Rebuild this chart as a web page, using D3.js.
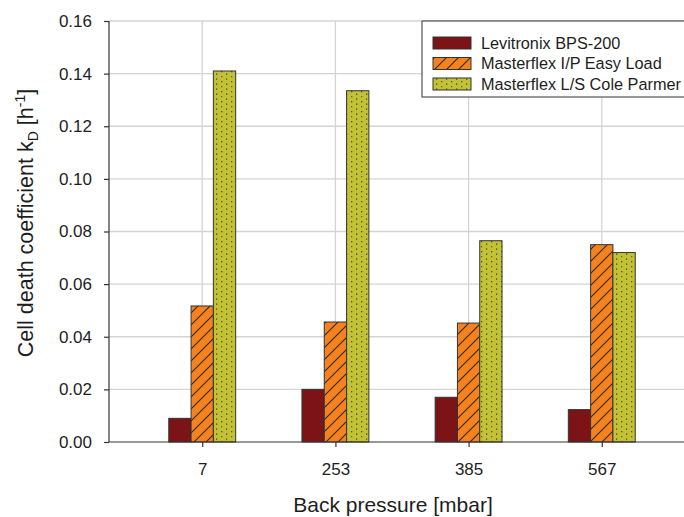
<!DOCTYPE html>
<html>
<head>
<meta charset="utf-8">
<script src="https://cdn.jsdelivr.net/npm/d3@7"></script>
<style>
  html, body { margin: 0; padding: 0; background: #fff; }
  svg { display: block; font-family: "Liberation Sans", Arial, sans-serif; }
</style>
</head>
<body>
<svg id="chart" width="684" height="517"></svg>
<script>
// Back pressure settings (x categories)
const categories = ["7", "253", "385", "567"];
// Pumps (series)
const seriesNames = ["Levitronix BPS-200", "Masterflex I/P Easy Load", "Masterflex L/S Cole Parmer"];
// Cell death coefficient kD [h^-1] per pump and back pressure
const levitronix = [0.009, 0.020, 0.017, 0.0123];
const masterflexIP = [0.0517, 0.0456, 0.0452, 0.075];
const masterflexLS = [0.141, 0.1335, 0.0765, 0.072];
const yTicks = [0, 0.02, 0.04, 0.06, 0.08, 0.10, 0.12, 0.14, 0.16];

const seriesValues = [levitronix, masterflexIP, masterflexLS];

const svg = d3.select("#chart");
const plotL = 109, plotR = 695, plotT = 21, plotB = 442;

const x = d3.scalePoint().domain(categories).range([plotL, plotR]).padding(0.7);
const y = d3.scaleLinear().domain([0, 0.16]).range([plotB, plotT]);
const barW = 22.3;

// Fill patterns
const defs = svg.append("defs");
const hatch = defs.append("pattern").attr("id", "hatch")
  .attr("patternUnits", "userSpaceOnUse").attr("width", 12).attr("height", 12);
hatch.append("rect").attr("width", 12).attr("height", 12).attr("fill", "#f5821f");
hatch.append("path").attr("d", "M0,12 L12,0 M-3,3 L3,-3 M9,15 L15,9")
  .attr("stroke", "#2a2a2a").attr("stroke-width", 1.1);

const dots = defs.append("pattern").attr("id", "dots")
  .attr("patternUnits", "userSpaceOnUse").attr("width", 10).attr("height", 10);
dots.append("rect").attr("width", 10).attr("height", 10).attr("fill", "#c3c234");
[[1, 1, 1.3, 0.75], [6, 3.5, 1.3, 0.85], [1, 6, 1.3, 0.6], [6, 8.5, 1.2, 0.9]].forEach(([cx, cy, s, o]) => {
  dots.append("rect").attr("x", cx).attr("y", cy).attr("width", s).attr("height", s)
    .attr("fill", "#2a2a10").attr("opacity", o);
});

const fills = ["#7b1317", "url(#hatch)", "url(#dots)"];

// Grid
const grid = svg.append("g");
grid.selectAll(".hg").data(yTicks.slice(1)).join("line")
  .attr("x1", plotL).attr("x2", 684)
  .attr("y1", d => y(d)).attr("y2", d => y(d))
  .attr("stroke", "#d4d4d4").attr("stroke-width", 1.3);
grid.selectAll(".vg").data(categories).join("line")
  .attr("x1", d => x(d)).attr("x2", d => x(d))
  .attr("y1", plotT).attr("y2", plotB)
  .attr("stroke", "#d4d4d4").attr("stroke-width", 1.3);

// Bars
seriesValues.forEach((vals, si) => {
  svg.append("g").selectAll("rect").data(categories).join("rect")
    .attr("x", (c) => x(c) + (si - 1.5) * barW)
    .attr("width", barW)
    .attr("y", (c, i) => y(vals[i]))
    .attr("height", (c, i) => plotB - y(vals[i]))
    .attr("fill", fills[si])
    .attr("stroke", "#333").attr("stroke-width", 1);
});

// Axes
const yAxis = svg.append("g").attr("transform", `translate(${plotL},0)`)
  .call(d3.axisLeft(y).tickValues(yTicks).tickFormat(d3.format(".2f")).tickSize(5).tickPadding(12));
const xAxis = svg.append("g").attr("transform", `translate(0,${plotB})`)
  .call(d3.axisBottom(x).tickSize(5).tickPadding(16));
[yAxis, xAxis].forEach(g => {
  g.selectAll("path, line").attr("stroke", "#333").attr("stroke-width", 1.2);
  g.selectAll("text").attr("fill", "#1e1e1e").attr("font-size", 17)
    .attr("font-family", "Liberation Sans, Arial, sans-serif");
});
xAxis.select(".domain").attr("d", `M${plotL},0H684`);
yAxis.select(".domain").attr("d", `M0,${plotB}V${plotT}`);

// Axis titles
svg.append("text").attr("x", 393).attr("y", 512).attr("text-anchor", "middle")
  .attr("font-size", 21).attr("fill", "#1e1e1e").text("Back pressure [mbar]");

const yt = svg.append("text").attr("transform", "translate(33,223) rotate(-90)")
  .attr("text-anchor", "middle").attr("font-size", 21.5).attr("fill", "#1e1e1e");
yt.append("tspan").text("Cell death coefficient k");
yt.append("tspan").attr("font-size", 14).attr("dy", 5).text("D");
yt.append("tspan").attr("dy", -5).text(" [h");
yt.append("tspan").attr("font-size", 14).attr("dy", -8).text("-1");
yt.append("tspan").attr("dy", 8).text("]");

// Legend
const lg = svg.append("g");
lg.append("rect").attr("x", 422).attr("y", 21).attr("width", 270).attr("height", 76)
  .attr("fill", "#fff").attr("stroke", "#333").attr("stroke-width", 1);
seriesNames.forEach((name, i) => {
  const yy = 37 + i * 20.5;
  lg.append("rect").attr("x", 433).attr("y", yy).attr("width", 38).attr("height", 12)
    .attr("fill", fills[i]).attr("stroke", "#333").attr("stroke-width", 1);
  lg.append("text").attr("x", 481).attr("y", yy + 11.5).attr("font-size", 16.3)
    .attr("fill", "#1e1e1e").text(name);
});
</script>
</body>
</html>
